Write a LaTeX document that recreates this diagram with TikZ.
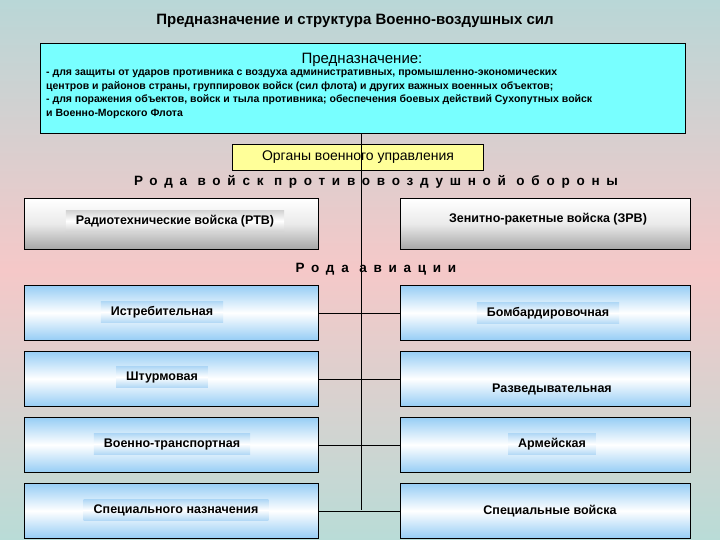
\documentclass[tikz,border=0pt]{standalone}
\usepackage{fontspec}
\setmainfont{Liberation Sans}
\begin{document}
\begin{tikzpicture}[x=1pt,y=-1pt,
  lbl/.style={font=\fontsize{12.5}{14}\selectfont\bfseries, inner ysep=5pt, inner xsep=10pt, top color={rgb,255:red,175;green,215;blue,245}, bottom color={rgb,255:red,175;green,215;blue,245}, middle color=white},
  plain/.style={font=\fontsize{12.5}{14}\selectfont\bfseries},
  avbox/.style={draw=black, line width=0.6pt, top color={rgb,255:red,150;green,205;blue,245}, bottom color={rgb,255:red,150;green,205;blue,245}, middle color=white, minimum width=294pt, minimum height=55pt, anchor=north west, inner sep=0},
  pvobox/.style={draw=black, line width=0.6pt, top color=white, bottom color=black!35, middle color=black!8, minimum width=294pt, minimum height=51pt, anchor=north west, inner sep=0},
  conn/.style={line width=0.6pt},
  spaced/.style={font=\fontsize{13.5}{15}\selectfont\bfseries\addfontfeature{LetterSpace=50}}]
\useasboundingbox (0,0) rectangle (720,540);
\shade[top color={rgb,255:red,185;green,215;blue,215}, bottom color={rgb,255:red,245;green,200;blue,200}] (0,0) rectangle (720,270);
\shade[top color={rgb,255:red,245;green,200;blue,200}, bottom color={rgb,255:red,185;green,220;blue,215}] (0,270) rectangle (720,540);
\node[font=\fontsize{15}{17}\selectfont\bfseries] (title) at (355,21) {Предназначение и структура Военно-воздушных сил};
\node[draw=black, line width=0.6pt, fill={rgb,255:red,120;green,255;blue,255}, minimum width=645pt, minimum height=90pt, anchor=north west] (purp) at (40,43) {};
\node[font=\fontsize{15}{17}\selectfont] (ptitle) at (362,60) {Предназначение:};
\node[font=\fontsize{10.5}{13.5}\selectfont\bfseries, anchor=north west, align=left, inner sep=0] (ptext) at (46,70) {- для защиты от ударов противника с воздуха административных, промышленно-экономических\\центров и районов страны, группировок войск (сил флота) и других важных военных объектов;\\- для поражения объектов, войск и тыла противника; обеспечения боевых действий Сухопутных войск\\и Военно-Морского Флота};
\coordinate (vb) at (361,510);
\node[draw=black, line width=0.6pt, fill={rgb,255:red,255;green,255;blue,153}, minimum width=251pt, minimum height=26pt, font=\fontsize{14}{16}\selectfont] (org) at (358,157) {Органы военного управления};
\node[spaced] (pvo) at (376,182) {Рода войск противовоздушной обороны};
\draw[conn] (purp.south -| vb) -- (vb);
\node[pvobox] (rtb) at (24,198) {};
\node[pvobox, minimum width=290pt] (zrv) at (400,198) {};
\node[lbl, top color=black!18, bottom color=black!18, middle color=white] at (175,221) {Радиотехнические войска (РТВ)};
\node[plain] at (548,219) {Зенитно-ракетные войска (ЗРВ)};
\node[spaced] (av) at (376,269) {Рода авиации};
\foreach \y [count=\i] in {285,351,417,483}{
  \node[avbox] (L\i) at (24,\y) {};
  \node[avbox, minimum width=290pt] (R\i) at (400,\y) {};
  \draw[conn] (L\i.east) -- (R\i.west);
}
\node[lbl] at (162,312) {Истребительная};
\node[lbl] at (548,313) {Бомбардировочная};
\node[lbl] at (162,377) {Штурмовая};
\node[plain] at (552,389) {Разведывательная};
\node[lbl] at (172,444) {Военно-транспортная};
\node[lbl] at (552,444) {Армейская};
\node[lbl] at (176,510) {Специального назначения};
\node[plain] at (550,511) {Специальные войска};
\end{tikzpicture}
\end{document}
